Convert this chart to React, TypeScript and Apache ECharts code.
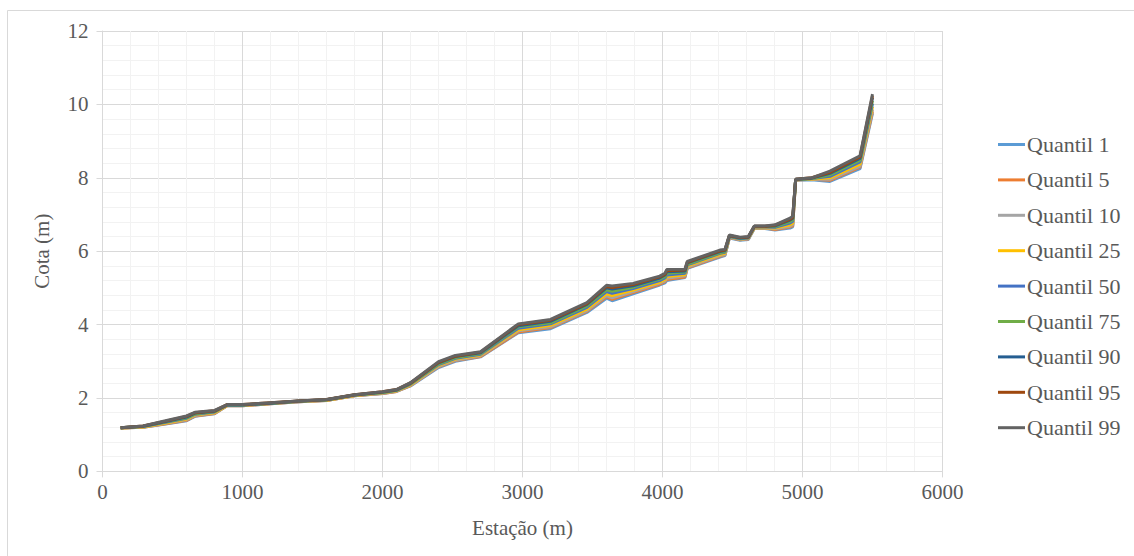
import React, { useEffect, useRef } from "react";
import * as echarts from "echarts";

const stations = [130, 290, 450, 600, 660, 800, 890, 1000, 1200, 1400, 1600, 1800, 2000, 2100, 2200, 2400, 2520, 2700, 2970, 3200, 3460, 3600, 3640, 3790, 3980, 4018, 4030, 4160, 4177, 4410, 4446, 4478, 4554, 4613, 4656, 4732, 4804, 4911, 4930, 4951, 5066, 5196, 5411, 5500];

const q1 = [1.18, 1.20, 1.29, 1.38, 1.50, 1.57, 1.79, 1.79, 1.84, 1.90, 1.93, 2.06, 2.12, 2.18, 2.33, 2.83, 3.00, 3.12, 3.78, 3.89, 4.33, 4.72, 4.65, 4.84, 5.08, 5.14, 5.20, 5.28, 5.53, 5.84, 5.88, 6.36, 6.30, 6.32, 6.62, 6.62, 6.58, 6.63, 6.66, 7.94, 7.95, 7.90, 8.25, 9.76];
const q5 = [1.18, 1.20, 1.30, 1.39, 1.51, 1.58, 1.79, 1.79, 1.84, 1.90, 1.93, 2.06, 2.12, 2.18, 2.34, 2.85, 3.02, 3.13, 3.80, 3.92, 4.36, 4.76, 4.69, 4.87, 5.10, 5.17, 5.23, 5.30, 5.55, 5.86, 5.90, 6.37, 6.31, 6.33, 6.63, 6.63, 6.59, 6.66, 6.69, 7.94, 7.96, 7.93, 8.29, 9.81];
const q10 = [1.18, 1.21, 1.31, 1.41, 1.52, 1.59, 1.80, 1.80, 1.85, 1.90, 1.94, 2.07, 2.13, 2.19, 2.35, 2.86, 3.03, 3.15, 3.83, 3.94, 4.38, 4.79, 4.73, 4.90, 5.13, 5.19, 5.26, 5.33, 5.57, 5.88, 5.91, 6.38, 6.32, 6.34, 6.63, 6.63, 6.61, 6.68, 6.72, 7.94, 7.96, 7.96, 8.32, 9.86];
const q25 = [1.18, 1.21, 1.32, 1.43, 1.54, 1.60, 1.80, 1.80, 1.85, 1.91, 1.94, 2.07, 2.14, 2.20, 2.36, 2.89, 3.06, 3.17, 3.86, 3.98, 4.42, 4.84, 4.79, 4.94, 5.16, 5.23, 5.31, 5.36, 5.60, 5.91, 5.94, 6.39, 6.33, 6.35, 6.64, 6.64, 6.63, 6.72, 6.76, 7.95, 7.97, 8.00, 8.37, 9.94];
const q50 = [1.19, 1.22, 1.34, 1.45, 1.56, 1.62, 1.81, 1.81, 1.86, 1.91, 1.95, 2.08, 2.15, 2.21, 2.38, 2.91, 3.08, 3.19, 3.90, 4.02, 4.47, 4.90, 4.85, 4.98, 5.20, 5.27, 5.35, 5.40, 5.63, 5.94, 5.97, 6.40, 6.34, 6.36, 6.66, 6.66, 6.65, 6.77, 6.81, 7.95, 7.98, 8.04, 8.43, 10.02];
const q75 = [1.19, 1.23, 1.35, 1.46, 1.57, 1.63, 1.81, 1.81, 1.86, 1.91, 1.95, 2.08, 2.15, 2.21, 2.39, 2.93, 3.10, 3.21, 3.94, 4.05, 4.51, 4.95, 4.91, 5.02, 5.24, 5.31, 5.40, 5.43, 5.65, 5.96, 5.99, 6.41, 6.35, 6.37, 6.67, 6.67, 6.67, 6.81, 6.85, 7.95, 7.98, 8.08, 8.48, 10.10];
const q90 = [1.19, 1.23, 1.36, 1.48, 1.59, 1.64, 1.81, 1.81, 1.86, 1.92, 1.95, 2.08, 2.16, 2.22, 2.40, 2.96, 3.13, 3.23, 3.97, 4.09, 4.55, 5.00, 4.97, 5.06, 5.27, 5.35, 5.44, 5.46, 5.68, 5.99, 6.02, 6.42, 6.36, 6.38, 6.68, 6.68, 6.69, 6.85, 6.89, 7.96, 7.99, 8.12, 8.53, 10.18];
const q95 = [1.19, 1.24, 1.37, 1.50, 1.60, 1.65, 1.82, 1.82, 1.87, 1.92, 1.96, 2.09, 2.17, 2.23, 2.41, 2.97, 3.14, 3.25, 4.00, 4.12, 4.57, 5.04, 5.01, 5.09, 5.30, 5.37, 5.47, 5.49, 5.70, 6.01, 6.03, 6.43, 6.37, 6.39, 6.68, 6.68, 6.71, 6.87, 6.92, 7.96, 8.00, 8.15, 8.57, 10.23];
const q99 = [1.19, 1.24, 1.38, 1.51, 1.61, 1.66, 1.82, 1.82, 1.87, 1.92, 1.96, 2.09, 2.17, 2.23, 2.42, 2.99, 3.16, 3.26, 4.02, 4.14, 4.60, 5.07, 5.05, 5.12, 5.32, 5.40, 5.50, 5.51, 5.72, 6.03, 6.05, 6.44, 6.38, 6.40, 6.69, 6.69, 6.72, 6.90, 6.95, 7.96, 8.00, 8.18, 8.60, 10.28];

const seriesNames = ["Quantil 1", "Quantil 5", "Quantil 10", "Quantil 25", "Quantil 50", "Quantil 75", "Quantil 90", "Quantil 95", "Quantil 99"];
const seriesValues = [q1, q5, q10, q25, q50, q75, q90, q95, q99];
const seriesColors = ["#5B9BD5", "#ED7D31", "#A5A5A5", "#FFC000", "#4472C4", "#70AD47", "#255E91", "#9E480E", "#636363"];

const FONT = "'Liberation Serif', 'Times New Roman', serif";
const TEXT_COLOR = "#595959";

export default function App() {
  const ref = useRef<HTMLDivElement>(null);
  useEffect(() => {
    if (!ref.current) return;
    const chart = echarts.init(ref.current, undefined, { renderer: "svg" });
    chart.setOption({
      animation: false,
      backgroundColor: "#ffffff",
      textStyle: { fontFamily: FONT },
      graphic: [
        {
          type: "rect",
          shape: { x: 7.5, y: 10.5, width: 1140, height: 560 },
          style: { fill: "none", stroke: "#d9d9d9", lineWidth: 1 },
          silent: true,
        },
      ],
      grid: { left: 102.5, right: 191.5, top: 31, bottom: 84.6, containLabel: false },
      legend: {
        orient: "vertical",
        left: 993,
        top: 128.5,
        icon: "rect",
        itemWidth: 27,
        itemHeight: 3,
        itemGap: 13.4,
        textStyle: { fontFamily: FONT, fontSize: 22, color: TEXT_COLOR, padding: [0, 0, 0, -3] },
        data: seriesNames,
      },
      xAxis: {
        type: "value",
        min: 0,
        max: 6000,
        interval: 1000,
        name: "Estação (m)",
        nameLocation: "middle",
        nameGap: 46,
        nameTextStyle: { fontFamily: FONT, fontSize: 21, color: TEXT_COLOR },
        axisLine: { show: true, lineStyle: { color: "#d9d9d9", width: 1 } },
        axisTick: { show: true, length: 6, lineStyle: { color: "#d9d9d9" } },
        axisLabel: { fontFamily: FONT, fontSize: 21, color: TEXT_COLOR, margin: 10, formatter: (v: number) => String(v) },
        splitLine: { show: true, lineStyle: { color: "#d9d9d9", width: 1 } },
        minorTick: { show: false, splitNumber: 5 },
        minorSplitLine: { show: true, lineStyle: { color: "#f2f2f2", width: 1 } },
      },
      yAxis: {
        type: "value",
        min: 0,
        max: 12,
        interval: 2,
        name: "Cota (m)",
        nameLocation: "middle",
        nameGap: 50,
        nameRotate: 90,
        nameTextStyle: { fontFamily: FONT, fontSize: 21, color: TEXT_COLOR },
        axisLine: { show: true, lineStyle: { color: "#d9d9d9", width: 1 } },
        axisTick: { show: true, length: 6, lineStyle: { color: "#d9d9d9" } },
        axisLabel: { fontFamily: FONT, fontSize: 21, color: TEXT_COLOR, margin: 14, formatter: (v: number) => String(v) },
        splitLine: { show: true, lineStyle: { color: "#d9d9d9", width: 1 } },
        minorTick: { show: false, splitNumber: 5 },
        minorSplitLine: { show: true, lineStyle: { color: "#f2f2f2", width: 1 } },
      },
      series: seriesNames.map((name, i) => ({
        name,
        type: "line",
        data: stations.map((x, j) => [x, seriesValues[i][j]]),
        showSymbol: false,
        symbol: "none",
        lineStyle: { color: seriesColors[i], width: 3 },
        itemStyle: { color: seriesColors[i] },
        emphasis: { disabled: true },
      })),
    });
    return () => chart.dispose();
  }, []);
  return <div ref={ref} style={{ position: "fixed", left: 0, top: 0, width: 1134, height: 556 }} />;
}
